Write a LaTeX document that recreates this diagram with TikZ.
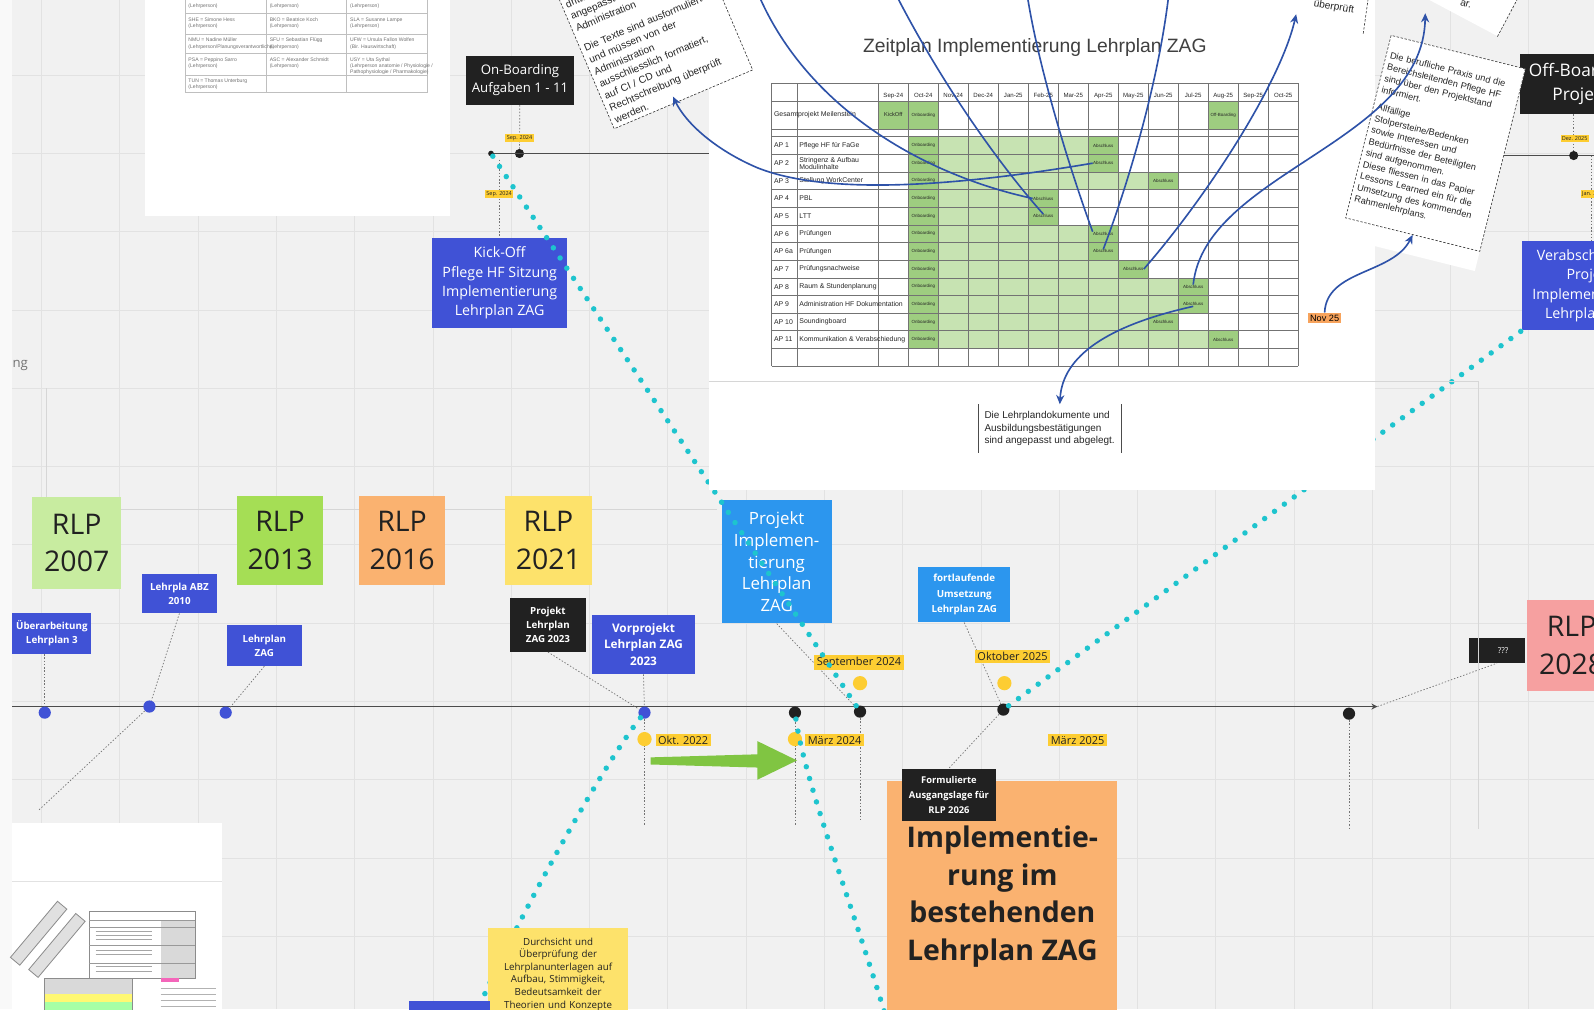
\documentclass[tikz,border=0pt]{standalone}
\usepackage{fontspec}
\setmainfont{Open Sans}
\newfontfamily\arialfont{Liberation Sans}
\usetikzlibrary{arrows.meta, positioning}

\newcommand{\fsz}[2]{\fontsize{#1pt}{#2pt}\selectfont}

\definecolor{boardbg}{RGB}{241,241,241}
\definecolor{gridgrey}{RGB}{226,226,226}
\definecolor{royal}{RGB}{64,82,214}
\definecolor{skyblue}{RGB}{44,150,238}
\definecolor{inkblack}{RGB}{33,33,33}
\definecolor{stickylime}{RGB}{200,236,160}
\definecolor{stickygreen}{RGB}{165,222,85}
\definecolor{stickyorange}{RGB}{250,178,112}
\definecolor{stickyyellow}{RGB}{253,226,107}
\definecolor{stickypink}{RGB}{246,160,160}
\definecolor{dotcyan}{RGB}{30,196,206}
\definecolor{markyellow}{RGB}{253,205,50}
\definecolor{arrowblue}{RGB}{46,82,168}
\definecolor{ganttlight}{RGB}{199,227,178}
\definecolor{ganttdark}{RGB}{158,205,128}
\definecolor{arrowgreen}{RGB}{128,197,66}
\definecolor{novorange}{RGB}{247,163,92}

\begin{document}
\begin{tikzpicture}[x=0.5pt, y=-0.5pt,
  gridline/.style={draw=gridgrey, line width=0.5pt},
  frameline/.style={draw=black!16, line width=0.5pt},
  tline/.style={draw=black!70, line width=0.8pt},
  sticky/.style={minimum width=44pt, minimum height=45pt, inner sep=0pt,
    align=center, text=inkblack, font=\fsz{14}{18.5}},
  tagbox/.style={fill=royal, text=white, align=center, inner sep=1pt},
  skybox/.style={fill=skyblue, text=white, align=center, inner sep=1pt},
  darkbox/.style={fill=inkblack, text=white, align=center, inner sep=1pt},
  datetag/.style={fill=markyellow, text=inkblack, inner xsep=1.2pt,
    inner ysep=1pt, font=\fsz{5.4}{6}},
  tinytag/.style={fill=markyellow, text=inkblack, inner sep=0.7pt, font=\fsz{2.7}{3}},
  tldot/.style={circle, inner sep=0pt, minimum size=6pt},
  leader/.style={draw=black!55, line width=0.35pt, dash pattern=on 0.7pt off 0.9pt},
  cyandots/.style={draw=dotcyan, line width=2.7pt, line cap=round,
    dash pattern=on 0pt off 6pt},
  bluecurve/.style={draw=arrowblue, line width=0.8pt},
  bluearrow/.style={bluecurve, -{Stealth[length=4.5pt, width=4pt]}},
  gline/.style={draw=black!55, line width=0.3pt},
  glabel/.style={font=\arialfont\fsz{3.4}{3.9}, inner sep=0pt, text=black!85},
  gcell/.style={font=\arialfont\fsz{2.2}{2.6}, inner sep=0pt, text=black!85},
  dashedge/.style={draw=black!80, line width=0.3pt, dash pattern=on 1.2pt off 0.8pt},
  card/.style={fill=white, dashedge, font=\arialfont\fsz{5}{6.4},
    align=left, text=black!85, inner sep=2pt},
  ttxt/.style={font=\arialfont\fsz{2.5}{3.1}, text=black!55, anchor=north west,
    align=left, inner sep=0pt},
]
\useasboundingbox (0,0) rectangle (1568,993);
\clip (0,0) rectangle (1568,993);

% board and grid
\fill[boardbg] (0,0) rectangle (1568,993);
\foreach \vx in {41,118,...,1580} \draw[gridline] (\vx,0) -- (\vx,993);
\foreach \hy in {-3,74,...,1000} \draw[gridline] (0,\hy) -- (1568,\hy);
\fill[boardbg!40!white] (0,0) rectangle (12,993);
\draw[frameline] (46,382) -- (46,501) -- (705,501);
\node[text=black!55, font=\fsz{6.5}{8}, anchor=west, inner sep=0pt] (frametitle) at (12,360) {ng};

% participant table (top left)
\fill[white] (143,-5) rectangle (443,212);
\foreach \tx in {182,262,341,420} \draw[gline, draw=black!25] (\tx,-5) -- (\tx,91);
\foreach \ty in {13,34,52,74,91} \draw[gline, draw=black!25] (182,\ty) -- (420,\ty);
\node[ttxt] (t01) at (185,3) {(Lehrperson)};
\node[ttxt] (t02) at (265,3) {(Lehrperson)};
\node[ttxt] (t03) at (344,3) {(Lehrperson)};
\node[ttxt] (t11) at (185,17) {SHE = Simone Hess\\(Lehrperson)};
\node[ttxt] (t12) at (265,17) {BKO = Beatrice Koch\\(Lehrperson)};
\node[ttxt] (t13) at (344,17) {SLA = Susanne Lampe\\(Lehrperson)};
\node[ttxt] (t21) at (185,37) {NMU = Nadine Müller\\(Lehrperson/Planungsverantwortliche)};
\node[ttxt] (t22) at (265,37) {SFU = Sebastian Flügg\\(Lehrperson)};
\node[ttxt] (t23) at (344,37) {UFW = Ursula Fallon Wolfen\\(Bir. Hauswirtschaft)};
\node[ttxt] (t31) at (185,56) {PSA = Peppino Sarro\\(Lehrperson)};
\node[ttxt] (t32) at (265,56) {ASC = Alexander Schmidt\\(Lehrperson)};
\node[ttxt] (t33) at (344,56) {USY = Uta Sythal\\(Lehrperson anatomie / Physiologie /\\Pathophysiologie / Pharmakologie)};
\node[ttxt] (t41) at (185,77) {TUN = Thomas Unterburg\\(Lehrperson)};

% documents (bottom left)
\fill[white] (12,810) rectangle (218,1000);
\draw[gridline] (12,867) -- (218,867);
\node[draw=black!45, fill=black!12, rotate=50, minimum width=36pt, minimum height=6pt, inner sep=0pt] (strip1) at (38,918) {};
\node[draw=black!45, fill=black!12, rotate=50, minimum width=36pt, minimum height=6pt, inner sep=0pt] (strip2) at (56,930) {};
\draw[black!45, line width=0.2pt] (88,896) rectangle (192,962);
\fill[black!15] (158,905) rectangle (192,962);
\foreach \ty in {905,912,930,947} \draw[black!40, line width=0.2pt] (88,\ty) -- (192,\ty);
\foreach \ty in {916,920,924,935,939,951,955} \draw[black!35, line width=0.3pt] (94,\ty) -- (150,\ty);
\fill[black!15] (43,962) rectangle (130,978);
\fill[yellow!55] (43,978) rectangle (130,986);
\fill[green!35] (43,986) rectangle (130,996);
\draw[black!45, line width=0.2pt] (43,962) rectangle (130,996);
\fill[magenta!60] (158,962) rectangle (176,966);
\foreach \ty in {972,978,984,990} \draw[black!30, line width=0.3pt] (158,\ty) -- (212,\ty);

% main timeline
\coordinate (tlstart) at (12,695);
\coordinate (tlend) at (1355,695);
\draw[tline, -{Stealth[length=3pt, width=3pt]}] (tlstart) -- (tlend);

\node[sticky, fill=stickylime] (rlp07) at (75.5,534) {RLP\\2007};
\node[sticky, fill=stickygreen, minimum width=42.5pt, minimum height=43.5pt] (rlp13) at (275.5,531.5) {RLP\\2013};
\node[sticky, fill=stickyorange, minimum width=42.5pt, minimum height=43.5pt] (rlp16) at (395.5,531.5) {RLP\\2016};
\node[sticky, fill=stickyyellow, minimum width=42.5pt, minimum height=43.5pt] (rlp21) at (539.5,531.5) {RLP\\2021};
\node[sticky, fill=stickypink] (rlp28) at (1546,635) {RLP\\2028};

\node[tagbox, minimum width=39pt, minimum height=20pt, font=\bfseries\fsz{4.8}{7}] (ueber) at (51,623) {Überarbeitung\\Lehrplan 3};
\node[tagbox, minimum width=36.5pt, minimum height=19pt, font=\bfseries\fsz{4.8}{7}] (abz) at (176.5,584) {Lehrpla ABZ\\2010};
\node[tagbox, minimum width=37pt, minimum height=20pt, font=\bfseries\fsz{4.8}{7}] (lpzag) at (260,635) {Lehrplan\\ZAG};
\node[darkbox, minimum width=37pt, minimum height=26.5pt, font=\bfseries\fsz{4.8}{7}] (proj23) at (539,614.5) {Projekt\\Lehrplan\\ZAG 2023};
\node[tagbox, minimum width=51pt, minimum height=29pt, font=\bfseries\fsz{5.8}{8.2}] (vorproj) at (633,634) {Vorprojekt\\Lehrplan ZAG\\2023};
\node[skybox, minimum width=54pt, minimum height=60.5pt, font=\fsz{8.3}{10.7}] (projimpl) at (764,552.5) {Projekt\\Implemen-\\tierung\\Lehrplan\\ZAG};
\node[skybox, minimum width=45.5pt, minimum height=27pt, font=\bfseries\fsz{4.8}{7.7}] (fortl) at (948.5,585) {fortlaufende\\Umsetzung\\Lehrplan ZAG};
\node[darkbox, minimum width=27.5pt, minimum height=12pt, font=\fsz{4}{5}] (qqq) at (1472.5,640) {\hspace{6pt}???};

% dots on the timeline
\node[tldot, fill=royal] (d1) at (44,701) {};
\node[tldot, fill=royal] (d2) at (147,695) {};
\node[tldot, fill=royal] (d3) at (222,701) {};
\node[tldot, fill=royal] (d4) at (634,701) {};
\node[tldot, fill=inkblack] (d5) at (782,701) {};
\node[tldot, fill=inkblack] (d6) at (846,700) {};
\node[tldot, fill=inkblack] (d7) at (987,698) {};
\node[tldot, fill=inkblack] (d8) at (1327,702) {};

% leaders
\coordinate (lowleft) at (38,797);
\coordinate (drop1) at (634,812);
\coordinate (drop2) at (782,812);
\coordinate (drop3) at (846,808);
\coordinate (drop4) at (1327,815);
\draw[leader] (ueber.south -| d1) -- (d1);
\draw[leader] (abz.south) -- (d2);
\draw[leader] (d2) -- (lowleft);
\draw[leader] (lpzag.south) -- (d3);
\draw[leader] (proj23.south) -- (d4);
\draw[leader] (vorproj.south) -- (d4);
\draw[leader] (d4) -- (drop1);
\draw[leader] (d5) -- (drop2);
\draw[leader] (projimpl.south) -- (d6);
\draw[leader] (d6) -- (drop3);
\draw[leader] (fortl.south) -- (d7);
\draw[leader] (d8) -- (drop4);
\draw[leader] (tlend) -- (qqq.south);

% date marks
\node[tldot, fill=markyellow, minimum size=7pt] (y1) at (634,727) {};
\node[tldot, fill=markyellow, minimum size=7pt] (y2) at (782,727) {};
\node[tldot, fill=markyellow, minimum size=7pt] (y3) at (846,672) {};
\node[tldot, fill=markyellow, minimum size=7pt] (y4) at (988,672) {};
\node[datetag] (okt22) at (672,728) {Okt. 2022};
\node[datetag] (mrz24) at (821,728) {März 2024};
\node[datetag] (sep24) at (845,652) {September 2024};
\node[datetag] (okt25) at (996,646) {Oktober 2025};
\node[datetag] (mrz25) at (1060,728) {März 2025};

% green arrow
\fill[arrowgreen] (640,745) -- (745,742) -- (745,729) -- (784,748) -- (745,767)
  -- (745,755) -- (640,752) -- cycle;

% upper timeline
\node[tldot, fill=inkblack, minimum size=2.8pt] (upstart) at (483,151) {};
\node[tldot, fill=inkblack, minimum size=4.5pt] (upsep) at (511,151) {};
\coordinate (upend) at (697,151);
\draw[tline] (upstart) -- (upend);
\node[darkbox, minimum width=53.5pt, minimum height=24pt, font=\fsz{6.5}{9}] (onboard) at (511.5,79) {On-Boarding\\Aufgaben 1 - 11};
\draw[leader] (onboard) -- (upsep);
\node[tinytag] (sepa) at (511,136) {Sep. 2024};
\node[tagbox, minimum width=66.5pt, minimum height=44.5pt, font=\fsz{7}{9.5}] (kickoff) at (491.5,278.5) {Kick-Off\\Pflege HF Sitzung\\Implementierung\\Lehrplan ZAG};
\coordinate (kickdrop) at (491.5,157);
\draw[leader] (kickdrop) -- (kickoff.north);
\node[tinytag] (sepb) at (491,191) {Sep. 2024};

% upper right
\coordinate (upr1) at (1470,153);
\coordinate (upr2) at (1600,153);
\draw[tline] (upr1) -- (upr2);
\node[darkbox, minimum width=60pt, minimum height=29.5pt, font=\fsz{8.5}{11.5}] (offboard) at (1555,82.5) {Off-Boarding\\Projekt};
\node[tldot, fill=inkblack, minimum size=4.5pt] (decdot) at (1548,153) {};
\draw[leader] (offboard.south -| decdot) -- (decdot);
\node[tinytag] (deztag) at (1549,136) {Dez. 2025};
\node[tagbox, minimum width=67pt, minimum height=44pt, font=\fsz{7}{9.5}] (verab) at (1564,281) {Verabschiedung\\Projekt\\Implementierung\\Lehrplan ZAG};
\coordinate (janx) at (1565,153);
\draw[leader] (janx) -- (janx |- verab.north);
\node[tinytag] (jantag) at (1568,191) {Jan. 2026};

% cyan dotted paths
\coordinate (cyanend2) at (872,1002);
\coordinate (cyanend3) at (466,1002);
\draw[cyandots] (upstart) -- (d6);
\draw[cyandots] (d5) .. controls (792,770) and (835,880) .. (cyanend2);
\draw[cyandots] (d4) .. controls (595,750) and (510,900) .. (cyanend3);
\draw[cyandots] (d7) -- (verab.south west);

% boxes below the line
\node[fill=stickyorange, minimum width=113pt, minimum height=114pt, align=center,
  text=inkblack, font=\bfseries\fsz{14}{18.5}] (implbest) at (986,882) {Implementie-\\rung im\\bestehenden\\Lehrplan ZAG};
\node[darkbox, minimum width=46.5pt, minimum height=26pt, font=\bfseries\fsz{4.6}{7.2}] (formul) at (933.5,782) {Formulierte\\Ausgangslage für\\RLP 2026};
\draw[leader] (d7) -- (formul.north);
\node[fill=stickyyellow, anchor=north, minimum width=66pt, text width=62pt, align=center,
  inner ysep=5pt, text=inkblack, font=\fsz{4.8}{6.2}] (durch) at (549,912) {Durchsicht und\\Überprüfung der\\Lehrplanunterlagen auf\\Aufbau, Stimmigkeit,\\Bedeutsamkeit der\\Theorien und Konzepte};
\node[tagbox, minimum width=40pt, minimum height=12pt] (bottomblue) at (442,997) {};

% Gantt chart panel
\fill[white] (697,-5) rectangle (1353,482);
\draw[frameline] (697,375) -- (1454,375) -- (1454,815);
\node[font=\arialfont\fsz{9.5}{11}, text=black!75] (gtitle) at (1018,47) {Zeitplan Implementierung Lehrplan ZAG};
\def\gx{864}\def\gw{29.5}\def\gap{134.5}\def\grow{17.35}
\fill[ganttdark] (\gx,99.5) rectangle ++(\gw,27.5);
\fill[ganttdark] ({\gx+\gw},99.5) rectangle ++(\gw,27.5);
\fill[ganttdark] ({\gx+11*\gw},99.5) rectangle ++(\gw,27.5);
\foreach \fin [count=\i from 0] in {7,7,9,5,5,7,7,8,10,10,9,11} {
  \fill[ganttdark] ({\gx+\gw},{\gap+\i*\grow}) rectangle ++(\gw,\grow);
  \fill[ganttlight] ({\gx+2*\gw},{\gap+\i*\grow}) rectangle ({\gx+\fin*\gw},{\gap+(\i+1)*\grow});
  \fill[ganttdark] ({\gx+\fin*\gw},{\gap+\i*\grow}) rectangle ++(\gw,\grow);
  \node[gcell] (on\i) at ({\gx+1.5*\gw},{\gap+(\i+.5)*\grow}) {Onboarding};
  \node[gcell] (ab\i) at ({\gx+(\fin+.5)*\gw},{\gap+(\i+.5)*\grow}) {Abschluss};
}
\foreach \i in {0,...,13} \draw[gline] (759,{\gap+\i*\grow}) -- ({\gx+14*\gw},{\gap+\i*\grow});
\foreach \yy in {82,99.5,127} \draw[gline] (759,\yy) -- ({\gx+14*\gw},\yy);
\foreach \m in {0,...,14} \draw[gline] ({\gx+\m*\gw},82) -- ({\gx+\m*\gw},{\gap+13*\grow});
\draw[gline] (759,82) -- (759,{\gap+13*\grow});
\draw[gline] (784,82) -- (784,{\gap+13*\grow});
\foreach \mo [count=\m from 0] in {Sep-24,Oct-24,Nov-24,Dec-24,Jan-25,Feb-25,Mar-25,Apr-25,May-25,Jun-25,Jul-25,Aug-25,Sep-25,Oct-25}
  \node[glabel, font=\arialfont\fsz{3}{3.5}] (mo\m) at ({\gx+(\m+.5)*\gw},94) {\mo};
\node[glabel, anchor=west] (gesamt) at (761,113) {Gesamtprojekt Meilenstein};
\node[gcell, font=\arialfont\fsz{2.8}{3}] (gkick) at ({\gx+.5*\gw},113) {KickOff};
\node[gcell] (gonb) at ({\gx+1.5*\gw},113) {Onboarding};
\node[gcell] (goff) at ({\gx+11.5*\gw},113) {Off-Boarding};
\foreach \ap/\apname [count=\i from 0] in {AP 1/Pflege HF für FaGe, AP 2/{Stringenz \& Aufbau\\Modulinhalte},
    AP 3/Stellung WorkCenter, AP 4/PBL, AP 5/LTT, AP 6/Prüfungen, AP 6a/Prüfungen,
    AP 7/Prüfungsnachweise, AP 8/Raum \& Stundenplanung, AP 9/Administration HF Dokumentation,
    AP 10/Soundingboard, AP 11/Kommunikation \& Verabschiedung} {
  \node[glabel, anchor=west] (apl\i) at (761,{\gap+(\i+.5)*\grow}) {\ap};
  \node[glabel, anchor=west, align=left, font=\arialfont\fsz{3.4}{3.6}] (apn\i) at (786,{\gap+(\i+.5)*\grow}) {\apname};
}
\node[fill=novorange, font=\arialfont\fsz{4.5}{5}, inner sep=1pt] (nov) at (1303,313) {Nov 25};
\node[font=\arialfont\fsz{4.9}{6}, align=left, inner xsep=3pt, minimum width=69.5pt,
  minimum height=23.5pt, text=black!85] (lpdoc) at (1032.5,421.5) {Die Lehrplandokumente und\\Ausbildungsbestätigungen\\sind angepasst und abgelegt.};
\draw[black!70, line width=0.3pt] (lpdoc.north west) -- (lpdoc.south west);
\draw[black!70, line width=0.3pt] (lpdoc.north east) -- (lpdoc.south east);

% notes at the top
\node[fill=white, rotate=-8, anchor=south east, minimum width=50pt, minimum height=30pt] (cardA) at (1341,33) {};
\draw[dashedge] (cardA.south east) -- (cardA.north east);
\node[font=\arialfont\fsz{5}{6}, text=black!85, rotate=-10, inner sep=0pt] (cardAtxt) at (1312,7) {überprüft};
\node[fill=white, rotate=-28, anchor=south east, minimum width=70pt, minimum height=40pt] (cardB) at (1473,36) {};
\draw[dashedge] (cardB.south east) -- (cardB.north east);
\node[font=\arialfont\fsz{5}{6}, text=black!85, rotate=-15, inner sep=0pt] (cardBtxt) at (1442,4) {ar.};
\node[card, rotate=23, anchor=south west, text width=70pt] (card1) at (604,127) {dritten\\angepasst\\Administration\\[4pt]Die Texte sind ausformuliert\\und müssen von der\\Administration\\ausschliesslich formatiert,\\auf CI / CD und\\Rechtschreibung überprüft\\werden.};
\node[fill=white, rotate=-14, minimum width=68pt, minimum height=102.5pt] (card2bg) at (1409.6,150.7) {};
\node[card, rotate=-14, text width=64pt, minimum height=92.5pt, font=\arialfont\fsz{4.5}{5.8}] (card2) at (1412,141) {Die berufliche Praxis und die\\Bereichsleitenden Pflege HF\\sind über den Projektstand\\informiert.\\[3pt]Allfällige\\Stolpersteine/Bedenken\\sowie Interessen und\\Bedürfnisse der Beteiligten\\sind aufgenommen.\\Diese fliessen in das Papier\\Lessons Learned ein für die\\Umsetzung des kommenden\\Rahmenlehrplans.};

% blue connectors
\coordinate (top1) at (745,-8);
\coordinate (top2) at (880,-8);
\coordinate (top3) at (1010,-8);
\coordinate (top4) at (1150,-8);
\coordinate (card1in) at (662,95);
\coordinate (cardAin) at (1275,14);
\coordinate (cardBin) at (1402,13);
\draw[bluecurve] (top1) .. controls (790,100) and (900,170) .. (ab3.west);
\draw[bluecurve] (top2) .. controls (930,90) and (990,170) .. (ab4.north);
\draw[bluecurve] (top3) .. controls (1020,60) and (1050,160) .. (ab5.north west);
\draw[bluecurve] (top4) .. controls (1140,80) and (1110,180) .. (ab6.north);
\draw[bluearrow] (ab1.west) .. controls (960,180) and (820,195) .. (745,165)
  .. controls (705,148) and (675,122) .. (card1in);
\draw[bluearrow] (ab7.east) .. controls (1190,190) and (1260,80) .. (cardAin);
\draw[bluearrow] (ab8.north) .. controls (1185,170) and (1400,140) .. (cardBin);
\draw[bluearrow] (nov.north) .. controls (1305,265) and (1370,270) .. (card2.south);
\draw[bluearrow] (ab9.south) .. controls (1090,320) and (1045,350) .. ([xshift=5pt]lpdoc.north);
\end{tikzpicture}
\end{document}
